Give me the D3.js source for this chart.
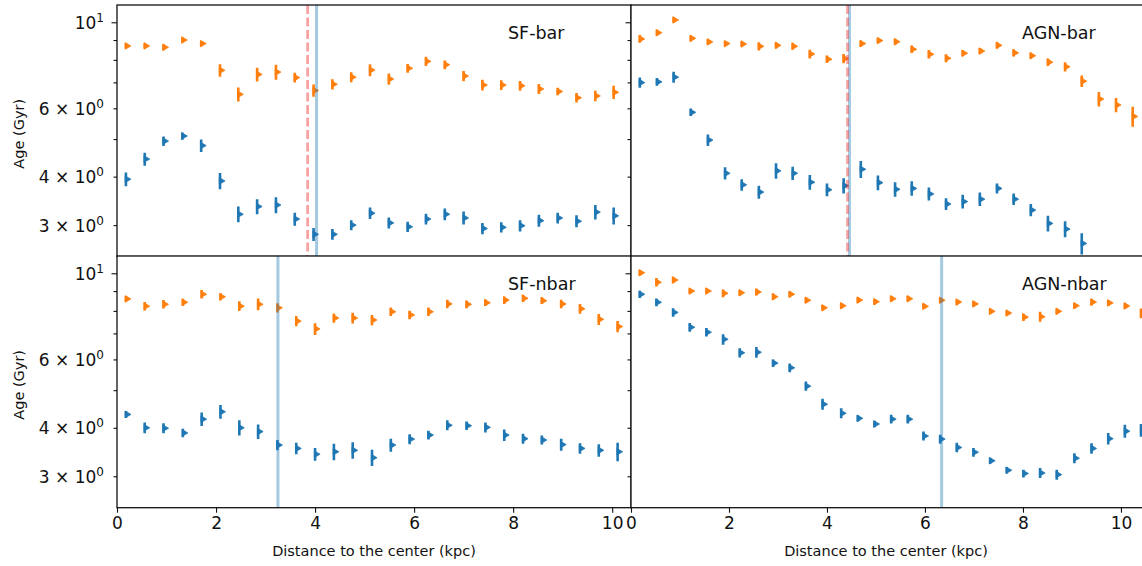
<!DOCTYPE html>
<html>
<head>
<meta charset="utf-8">
<script src="https://cdn.jsdelivr.net/npm/d3@7"></script>
<style>
  body { margin: 0; background: #fff; }
  svg { display: block; }
  text { font-family: "DejaVu Sans", sans-serif; fill: #111; }
</style>
</head>
<body>
<svg id="chart" width="1142" height="566"></svg>
<script>
// Radial age profiles (Gyr) for four galaxy samples.
// lw = luminosity-weighted age (blue), mw = mass-weighted age (orange).

// ---- SF-bar ----
const sfBarR = [0.18,0.56,0.94,1.32,1.70,2.08,2.45,2.83,3.21,3.59,3.97,4.35,4.73,5.11,5.49,5.87,6.24,6.62,7.00,7.38,7.76,8.14,8.52,8.90,9.28,9.66,10.03];
const sfBarMw = [8.69,8.69,8.62,9.00,8.81,7.52,6.52,7.34,7.44,7.20,6.67,6.92,7.22,7.53,7.14,7.61,7.93,7.77,7.27,6.89,6.89,6.86,6.73,6.63,6.39,6.46,6.60];
const sfBarMwErr = [0.13,0.13,0.15,0.13,0.13,0.28,0.27,0.30,0.33,0.21,0.24,0.21,0.21,0.27,0.24,0.20,0.22,0.20,0.22,0.22,0.20,0.20,0.20,0.15,0.18,0.20,0.26];
const sfBarLw = [3.94,4.44,4.94,5.09,4.81,3.90,3.20,3.35,3.38,3.11,2.84,2.84,3.00,3.22,3.04,2.97,3.11,3.20,3.13,2.94,2.96,2.99,3.08,3.13,3.07,3.24,3.17];
const sfBarLwErr = [0.16,0.17,0.14,0.11,0.18,0.19,0.15,0.15,0.16,0.12,0.11,0.09,0.09,0.11,0.10,0.09,0.10,0.11,0.12,0.10,0.09,0.10,0.11,0.10,0.11,0.14,0.16];

// ---- AGN-bar ----
const agnBarR = [0.18,0.53,0.87,1.22,1.57,1.92,2.26,2.61,2.96,3.30,3.65,4.00,4.34,4.69,5.04,5.39,5.73,6.08,6.43,6.77,7.12,7.47,7.81,8.16,8.51,8.86,9.20,9.55,9.90,10.24];
const agnBarMw = [9.06,9.40,10.14,9.09,8.90,8.81,8.79,8.67,8.72,8.67,8.28,8.03,8.06,8.81,8.97,8.91,8.52,8.27,8.08,8.32,8.43,8.72,8.34,8.20,7.89,7.68,7.05,6.34,6.12,5.72];
const agnBarMwErr = [0.21,0.17,0.15,0.16,0.13,0.13,0.13,0.21,0.16,0.18,0.22,0.18,0.22,0.16,0.13,0.16,0.19,0.21,0.19,0.15,0.15,0.16,0.18,0.15,0.18,0.21,0.24,0.27,0.26,0.34];
const agnBarLw = [6.99,7.02,7.22,5.86,4.97,4.08,3.81,3.65,4.14,4.08,3.87,3.70,3.79,4.18,3.86,3.71,3.73,3.61,3.40,3.45,3.50,3.73,3.50,3.28,3.03,2.93,2.69];
const agnBarLwErr = [0.21,0.16,0.24,0.13,0.17,0.15,0.13,0.14,0.19,0.16,0.17,0.14,0.17,0.21,0.17,0.16,0.16,0.14,0.12,0.14,0.14,0.11,0.12,0.12,0.14,0.14,0.17];

// ---- SF-nbar ----
const sfNbarR = [0.18,0.56,0.94,1.33,1.71,2.09,2.47,2.85,3.24,3.62,4.00,4.38,4.76,5.15,5.53,5.91,6.29,6.67,7.06,7.44,7.82,8.20,8.58,8.97,9.35,9.73,10.11];
const sfNbarMw = [8.59,8.23,8.32,8.42,8.83,8.70,8.23,8.32,8.15,7.53,7.19,7.67,7.67,7.58,7.96,7.81,7.96,8.34,8.32,8.40,8.53,8.62,8.50,8.34,8.10,7.61,7.29];
const sfNbarMwErr = [0.14,0.21,0.21,0.18,0.22,0.19,0.24,0.29,0.22,0.23,0.25,0.21,0.24,0.23,0.20,0.20,0.20,0.21,0.19,0.16,0.19,0.19,0.17,0.21,0.23,0.25,0.24];
const sfNbarLw = [4.33,4.00,3.99,3.88,4.21,4.40,4.00,3.91,3.61,3.54,3.42,3.47,3.50,3.35,3.61,3.74,3.83,4.06,4.05,4.01,3.83,3.75,3.72,3.62,3.54,3.50,3.47];
const sfNbarLwErr = [0.09,0.13,0.12,0.10,0.17,0.18,0.18,0.17,0.11,0.12,0.13,0.17,0.17,0.16,0.14,0.11,0.10,0.12,0.10,0.12,0.13,0.11,0.10,0.13,0.11,0.13,0.19];

// ---- AGN-nbar ----
const agnNbarR = [0.18,0.52,0.86,1.20,1.54,1.88,2.22,2.56,2.90,3.24,3.57,3.91,4.29,4.63,4.97,5.31,5.65,5.97,6.31,6.65,6.99,7.33,7.67,8.01,8.35,8.69,9.05,9.40,9.74,10.08,10.41];
const agnNbarMw = [10.03,9.48,9.61,9.00,9.00,8.88,8.91,8.95,8.70,8.83,8.52,8.15,8.25,8.53,8.45,8.60,8.60,8.22,8.52,8.43,8.34,7.98,7.90,7.71,7.73,7.98,8.25,8.43,8.39,8.24,7.89];
const agnNbarMwErr = [0.16,0.24,0.19,0.14,0.14,0.20,0.14,0.18,0.17,0.16,0.14,0.13,0.13,0.14,0.14,0.14,0.14,0.13,0.14,0.14,0.13,0.13,0.13,0.17,0.23,0.14,0.13,0.17,0.15,0.15,0.23];
const agnNbarLw = [8.83,8.42,7.93,7.26,7.05,6.76,6.24,6.26,5.87,5.71,5.12,4.60,4.36,4.23,4.09,4.21,4.21,3.81,3.74,3.56,3.46,3.29,3.11,3.05,3.06,3.03,3.34,3.54,3.75,3.92,3.94];
const agnNbarLwErr = [0.19,0.19,0.20,0.19,0.18,0.21,0.17,0.20,0.13,0.15,0.14,0.15,0.13,0.08,0.08,0.11,0.11,0.10,0.10,0.10,0.09,0.06,0.06,0.07,0.09,0.09,0.10,0.11,0.13,0.15,0.15];

// Reference radii (kpc): effective radius (solid) and bar length (dashed)
const effRadius = [4.03, 4.46, 3.25, 6.34];
const barLength = [3.85, 4.42, null, null];

const panelNames = ["SF-bar", "AGN-bar", "SF-nbar", "AGN-nbar"];
const yTicks = [3, 4, 5, 6, 7, 8, 9, 10];
const yTickLabels = { 3: ["3 × 10", "0"], 4: ["4 × 10", "0"], 6: ["6 × 10", "0"], 10: ["10", "1"] };
const xTicks = [0, 2, 4, 6, 8, 10];
const ageDomain = [2.49, 11.08];
const xDomainMax = [10.38, 10.45];

const panels = [
  { r: sfBarR, mw: sfBarMw, mwErr: sfBarMwErr, lw: sfBarLw, lwErr: sfBarLwErr },
  { r: agnBarR, mw: agnBarMw, mwErr: agnBarMwErr, lw: agnBarLw, lwErr: agnBarLwErr },
  { r: sfNbarR, mw: sfNbarMw, mwErr: sfNbarMwErr, lw: sfNbarLw, lwErr: sfNbarLwErr },
  { r: agnNbarR, mw: agnNbarMw, mwErr: agnNbarMwErr, lw: agnNbarLw, lwErr: agnNbarLwErr }
].map((p, i) => Object.assign(p, {
  name: panelNames[i], col: i % 2, row: Math.floor(i / 2),
  reff: effRadius[i], bar: barLength[i]
}));

// ---- layout ----
const colX = [[117, 631], [631, 1143]];
const rowY = [[256.5, 5], [507.7, 256]];
const BLUE = "#1f77b4", ORANGE = "#ff7f0e";

const svg = d3.select("#chart");
const defs = svg.append("defs");
const marker = d3.symbol(d3.symbolTriangle, 19);

panels.forEach((p, i) => {
  const [x0, x1] = colX[p.col];
  const [yb, yt] = rowY[p.row];
  const x = d3.scaleLinear().domain([0, xDomainMax[p.col]]).range([x0, x1]);
  const y = d3.scaleLog().domain(ageDomain).range([yb, yt]);

  const g = svg.append("g").attr("class", "panel");
  g.append("rect").attr("x", x0).attr("y", yt).attr("width", x1 - x0).attr("height", yb - yt).attr("fill", "#fff");

  defs.append("clipPath").attr("id", "clip" + i)
    .append("rect").attr("x", x0).attr("y", yt).attr("width", x1 - x0).attr("height", yb - yt);
  const plot = g.append("g").attr("clip-path", `url(#clip${i})`);

  [{ v: p.lw, e: p.lwErr, c: BLUE }, { v: p.mw, e: p.mwErr, c: ORANGE }].forEach(s => {
    const pts = s.v.map((v, k) => ({ r: p.r[k], v, e: s.e[k] }));
    plot.append("g").selectAll("line").data(pts).join("line")
      .attr("x1", d => x(d.r)).attr("x2", d => x(d.r))
      .attr("y1", d => y(d.v - d.e)).attr("y2", d => y(d.v + d.e))
      .attr("stroke", s.c).attr("stroke-width", 2.6);
    plot.append("g").selectAll("path").data(pts).join("path")
      .attr("d", marker)
      .attr("transform", d => `translate(${x(d.r) + 1.2},${y(d.v)}) rotate(90)`)
      .attr("fill", s.c).attr("stroke", s.c).attr("stroke-width", 0.8).attr("stroke-linejoin", "round");
  });

  // reference radii
  plot.append("line")
    .attr("x1", x(p.reff)).attr("x2", x(p.reff)).attr("y1", yt).attr("y2", yb)
    .attr("stroke", BLUE).attr("stroke-opacity", 0.4).attr("stroke-width", 3);
  if (p.bar != null) {
    plot.append("line")
      .attr("x1", x(p.bar)).attr("x2", x(p.bar)).attr("y1", yt).attr("y2", yb)
      .attr("stroke", "#f03030").attr("stroke-opacity", 0.45).attr("stroke-width", 2.8)
      .attr("stroke-dasharray", "9,3.5");
  }

  // frame
  g.append("rect").attr("x", x0).attr("y", yt).attr("width", x1 - x0).attr("height", yb - yt)
    .attr("fill", "none").attr("stroke", "#111").attr("stroke-width", 1.3);

  // y axis (log)
  const ya = g.append("g").attr("transform", `translate(${x0},0)`)
    .call(d3.axisLeft(y).tickValues(yTicks).tickFormat("").tickSize(3.5));
  ya.select(".domain").remove();
  ya.selectAll(".tick line").attr("x2", d => d === 10 ? -5.5 : -3.5).attr("stroke", "#111").attr("stroke-width", 1.1);
  if (p.col === 0) {
    ya.selectAll(".tick").filter(d => yTickLabels[d]).each(function (d) {
      const t = d3.select(this).append("text")
        .attr("x", -13).attr("y", 6).attr("text-anchor", "end")
        .style("font-size", "17px");
      t.append("tspan").text(yTickLabels[d][0]);
      t.append("tspan").attr("dy", -7).style("font-size", "12px").text(yTickLabels[d][1]);
    });
    g.append("text")
      .attr("transform", `translate(24,${(yt + yb) / 2 + 3}) rotate(-90)`)
      .attr("text-anchor", "middle").style("font-size", "14.5px")
      .text("Age (Gyr)");
  }

  // x axis on the bottom row
  if (p.row === 1) {
    const xa = g.append("g").attr("transform", `translate(0,${yb})`)
      .call(d3.axisBottom(x).tickValues(xTicks).tickSize(5).tickPadding(4));
    xa.select(".domain").remove();
    xa.selectAll(".tick line").attr("stroke", "#111").attr("stroke-width", 1.1);
    xa.selectAll(".tick text").style("font-size", "17px").style("font-family", "DejaVu Sans, sans-serif").attr("fill", "#111");
    g.append("text")
      .attr("x", (x0 + x1) / 2 - (p.col === 1 ? 1 : 0)).attr("y", 556)
      .attr("text-anchor", "middle").style("font-size", "14.5px")
      .text("Distance to the center (kpc)");
  }

  // panel label
  g.append("text")
    .attr("x", x0 + 391).attr("y", yt + 33.5)
    .style("font-size", "17.5px")
    .text(p.name);
});
</script>
</body>
</html>
